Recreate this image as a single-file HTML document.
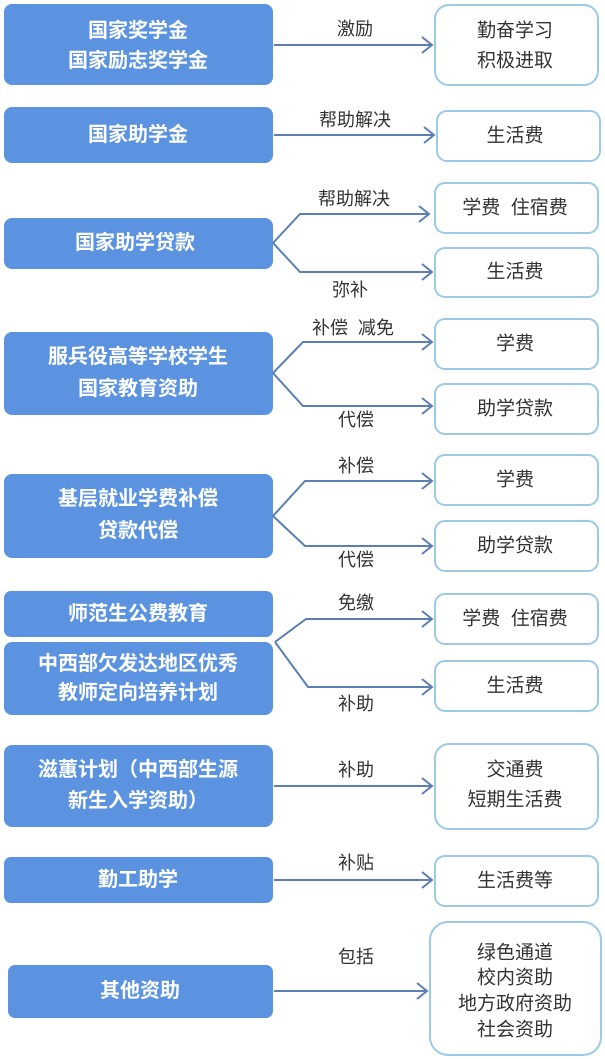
<!DOCTYPE html>
<html><head><meta charset="utf-8"><style>
html,body{margin:0;padding:0;background:#fff;width:605px;height:1059px;overflow:hidden}
svg{display:block}
text{font-family:"Liberation Sans","Noto Sans CJK SC",sans-serif;white-space:pre}
.l{fill:#5b93e0}
.lt{fill:#fff;font-size:20px;font-weight:bold;text-anchor:middle;dominant-baseline:central}
.r{fill:#fff;stroke:#9cc9e6;stroke-width:2}
.rt{fill:#333;font-size:19px;text-anchor:middle;dominant-baseline:central}
.c{fill:none;stroke:#5b7fb2;stroke-width:2}
.a{fill:none;stroke:#5b7fb2;stroke-width:2}
.lb{fill:#333;font-size:18px;text-anchor:middle;dominant-baseline:central}
</style></head><body>
<svg width="605" height="1059" viewBox="0 0 605 1059">
<rect class="l" x="4" y="4" width="269" height="81" rx="8"/>
<text class="lt" x="138" y="31">国家奖学金</text><text class="lt" x="138" y="61">国家励志奖学金</text>
<rect class="l" x="4" y="107" width="269" height="56" rx="8"/>
<text class="lt" x="138" y="135">国家助学金</text>
<rect class="l" x="4" y="218" width="269" height="51" rx="8"/>
<text class="lt" x="135" y="243">国家助学贷款</text>
<rect class="l" x="4" y="332" width="269" height="83" rx="8"/>
<text class="lt" x="138" y="357">服兵役高等学校学生</text><text class="lt" x="138" y="389">国家教育资助</text>
<rect class="l" x="4" y="474" width="269" height="84" rx="8"/>
<text class="lt" x="138" y="499">基层就业学费补偿</text><text class="lt" x="138" y="531">贷款代偿</text>
<rect class="l" x="4" y="591" width="269" height="46" rx="7"/>
<text class="lt" x="138" y="614">师范生公费教育</text>
<rect class="l" x="4" y="642" width="269" height="73" rx="8"/>
<text class="lt" x="138" y="664">中西部欠发达地区优秀</text><text class="lt" x="138" y="693">教师定向培养计划</text>
<rect class="l" x="4" y="745" width="269" height="82" rx="8"/>
<text class="lt" x="138" y="770">滋蕙计划（中西部生源</text><text class="lt" x="138" y="801">新生入学资助）</text>
<rect class="l" x="4" y="857" width="269" height="46" rx="7"/>
<text class="lt" x="138" y="880">勤工助学</text>
<rect class="l" x="8" y="965" width="265" height="53" rx="7"/>
<text class="lt" x="140" y="991">其他资助</text>

<rect class="r" x="435" y="5" width="163" height="80" rx="14"/>
<text class="rt" x="515" y="31">勤奋学习</text><text class="rt" x="515" y="61">积极进取</text>
<rect class="r" x="437" y="111" width="163" height="50" rx="10"/>
<text class="rt" x="515" y="136">生活费</text>
<rect class="r" x="435" y="183" width="163" height="50" rx="10"/>
<text class="rt" x="515" y="208">学费  住宿费</text>
<rect class="r" x="435" y="248" width="163" height="49" rx="10"/>
<text class="rt" x="515" y="272">生活费</text>
<rect class="r" x="435" y="319" width="163" height="50" rx="10"/>
<text class="rt" x="515" y="344">学费</text>
<rect class="r" x="435" y="384" width="163" height="50" rx="10"/>
<text class="rt" x="515" y="409">助学贷款</text>
<rect class="r" x="435" y="455" width="163" height="50" rx="10"/>
<text class="rt" x="515" y="480">学费</text>
<rect class="r" x="435" y="521" width="163" height="50" rx="10"/>
<text class="rt" x="515" y="546">助学贷款</text>
<rect class="r" x="435" y="594" width="163" height="50" rx="10"/>
<text class="rt" x="515" y="619">学费  住宿费</text>
<rect class="r" x="435" y="661" width="163" height="50" rx="10"/>
<text class="rt" x="515" y="686">生活费</text>
<rect class="r" x="435" y="744" width="163" height="85" rx="14"/>
<text class="rt" x="515" y="770">交通费</text><text class="rt" x="515" y="800">短期生活费</text>
<rect class="r" x="435" y="856" width="163" height="50" rx="10"/>
<text class="rt" x="515" y="881">生活费等</text>
<rect class="r" x="430" y="922" width="171" height="133" rx="18"/>
<text class="rt" x="515" y="953">绿色通道</text><text class="rt" x="515" y="978">校内资助</text>
<text class="rt" x="515" y="1004">地方政府资助</text><text class="rt" x="515" y="1030">社会资助</text>

<path class="c" d="M274 45 H432"/><path class="a" d="M422 37 L432 45 L422 53"/>
<text class="lb" x="355" y="29">激励</text>
<path class="c" d="M274 135 H434"/><path class="a" d="M424 127 L434 135 L424 143"/>
<text class="lb" x="355" y="120">帮助解决</text>

<path class="c" d="M273 243 L300 214 H429 M273 243 L300 272 H432"/>
<path class="a" d="M419 206 L429 214 L419 222 M422 264 L432 272 L422 280"/>
<text class="lb" x="354" y="199">帮助解决</text><text class="lb" x="350" y="290">弥补</text>

<path class="c" d="M273 373 L303 342 H432 M273 373 L303 406 H432"/>
<path class="a" d="M422 334 L432 342 L422 350 M422 398 L432 406 L422 414"/>
<text class="lb" x="353" y="328">补偿  减免</text><text class="lb" x="356" y="420">代偿</text>

<path class="c" d="M273 516 L305 481 H432 M273 516 L305 546 H432"/>
<path class="a" d="M422 473 L432 481 L422 489 M422 538 L432 546 L422 554"/>
<text class="lb" x="356" y="466">补偿</text><text class="lb" x="356" y="560">代偿</text>

<path class="c" d="M275 642 L306 619 H432 M275 642 L308 687 H432"/>
<path class="a" d="M422 611 L432 619 L422 627 M422 679 L432 687 L422 695"/>
<text class="lb" x="356" y="603">免缴</text><text class="lb" x="356" y="704">补助</text>

<path class="c" d="M274 786 H432"/><path class="a" d="M422 778 L432 786 L422 794"/>
<text class="lb" x="356" y="770">补助</text>
<path class="c" d="M274 880 H432"/><path class="a" d="M422 872 L432 880 L422 888"/>
<text class="lb" x="356" y="863">补贴</text>
<path class="c" d="M274 991 H427"/><path class="a" d="M417 983 L427 991 L417 999"/>
<text class="lb" x="356" y="957">包括</text>
</svg>
</body></html>
